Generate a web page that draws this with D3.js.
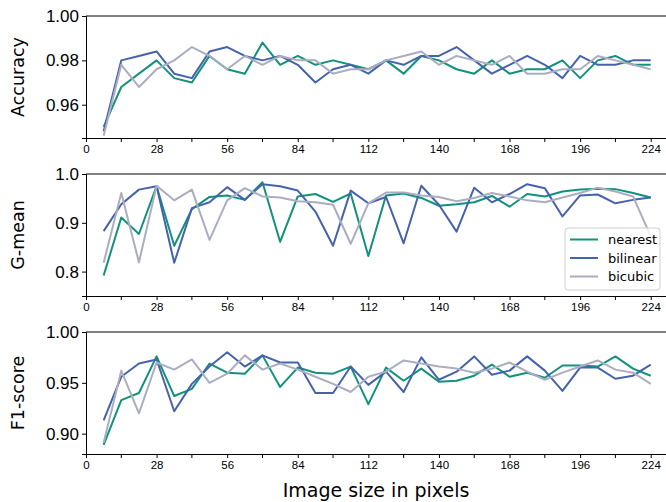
<!DOCTYPE html>
<html>
<head>
<meta charset="utf-8">
<script src="https://cdn.jsdelivr.net/npm/d3@7"></script>
<style>
  body { margin: 0; background: #fff; }
  svg { font-family: "DejaVu Sans", sans-serif; }
</style>
</head>
<body>
<div id="chart"></div>
<script>
// image sizes 7..224 step 7
var sizes = [7,14,21,28,35,42,49,56,63,70,77,84,91,98,105,112,119,126,133,140,147,154,161,168,175,182,189,196,203,210,217,224];
var xTicks = [0,28,56,84,112,140,168,196,224];
var xMinor = [14,42,70,98,126,154,182,210];

var accNearest  = [0.950,0.968,0.974,0.980,0.972,0.970,0.982,0.976,0.974,0.988,0.978,0.982,0.978,0.980,0.978,0.976,0.980,0.974,0.982,0.980,0.976,0.974,0.980,0.974,0.976,0.976,0.980,0.972,0.980,0.982,0.978,0.978];
var accBilinear = [0.948,0.980,0.982,0.984,0.974,0.972,0.984,0.986,0.982,0.980,0.982,0.978,0.970,0.976,0.978,0.974,0.980,0.978,0.982,0.982,0.986,0.980,0.974,0.978,0.982,0.978,0.972,0.982,0.978,0.978,0.980,0.980];
var accBicubic  = [0.946,0.978,0.968,0.976,0.980,0.986,0.982,0.976,0.982,0.978,0.982,0.980,0.980,0.974,0.976,0.976,0.980,0.982,0.984,0.978,0.982,0.980,0.978,0.982,0.974,0.974,0.976,0.976,0.982,0.980,0.978,0.976];

var gmNearest  = [0.792,0.911,0.877,0.975,0.853,0.928,0.953,0.956,0.947,0.983,0.861,0.954,0.959,0.943,0.960,0.832,0.956,0.960,0.951,0.935,0.938,0.942,0.955,0.933,0.959,0.954,0.964,0.968,0.970,0.969,0.961,0.952];
var gmBilinear = [0.883,0.938,0.968,0.975,0.818,0.930,0.942,0.973,0.947,0.979,0.975,0.966,0.923,0.853,0.966,0.940,0.953,0.858,0.976,0.937,0.882,0.972,0.942,0.959,0.979,0.971,0.913,0.956,0.958,0.940,0.947,0.952];
var gmBicubic  = [0.818,0.961,0.819,0.976,0.946,0.968,0.865,0.946,0.971,0.954,0.952,0.944,0.942,0.937,0.857,0.940,0.962,0.962,0.956,0.953,0.944,0.951,0.961,0.954,0.946,0.942,0.952,0.961,0.972,0.964,0.954,0.872];

var f1Nearest  = [0.889,0.933,0.940,0.976,0.937,0.944,0.969,0.960,0.959,0.977,0.946,0.965,0.960,0.959,0.966,0.929,0.965,0.952,0.964,0.951,0.952,0.957,0.968,0.956,0.960,0.955,0.967,0.967,0.966,0.976,0.964,0.957];
var f1Bilinear = [0.913,0.956,0.969,0.973,0.922,0.949,0.966,0.980,0.966,0.977,0.970,0.970,0.940,0.940,0.966,0.948,0.961,0.941,0.975,0.953,0.961,0.976,0.958,0.962,0.976,0.962,0.942,0.965,0.965,0.954,0.957,0.968];
var f1Bicubic  = [0.891,0.962,0.920,0.970,0.963,0.973,0.950,0.959,0.977,0.963,0.969,0.963,0.956,0.949,0.941,0.956,0.961,0.972,0.969,0.966,0.964,0.960,0.964,0.970,0.961,0.953,0.960,0.966,0.972,0.963,0.960,0.949];

var seriesNames = ["nearest","bilinear","bicubic"];
var colors = ["#12917b","#4563ad","#abadc2"];

var panels = [
  {label:"Accuracy", data:[accNearest,accBilinear,accBicubic], domain:[0.945,1.0], ticks:[0.96,0.98,1.00], fmt:".2f", top:16, bottom:138},
  {label:"G-mean",   data:[gmNearest,gmBilinear,gmBicubic],    domain:[0.75,1.0],  ticks:[0.8,0.9,1.0],    fmt:".1f", top:174, bottom:296},
  {label:"F1-score", data:[f1Nearest,f1Bilinear,f1Bicubic],    domain:[0.88,1.0],  ticks:[0.90,0.95,1.00], fmt:".2f", top:332, bottom:454}
];

var W = 666, H = 502;
var svg = d3.select("#chart").append("svg")
    .attr("width", W)
    .attr("height", H);

var left = 86;
var x = d3.scaleLinear().domain([0, 232]).range([left, left + 232 * 2.521]);

panels.forEach(function(p, pi) {
  var y = d3.scaleLinear().domain(p.domain).range([p.bottom, p.top]);
  var g = svg.append("g");

  // lines
  var line = d3.line()
    .x(function(d, i) { return x(sizes[i]); })
    .y(function(d) { return y(d); });
  p.data.forEach(function(vals, si) {
    g.append("path")
      .datum(vals)
      .attr("d", line)
      .attr("fill", "none")
      .attr("stroke", colors[si])
      .attr("stroke-width", 2)
      .attr("stroke-linejoin", "round");
  });

  // top spine
  g.append("line")
    .attr("x1", left).attr("x2", W + 10)
    .attr("y1", p.top).attr("y2", p.top)
    .attr("stroke", "#000").attr("stroke-width", 1);

  // x axis
  var xa = g.append("g")
    .attr("transform", "translate(0," + p.bottom + ")")
    .call(d3.axisBottom(x).tickValues(xTicks).tickSize(4).tickPadding(3).tickFormat(d3.format("d")));
  xa.select(".domain").attr("d", "M" + left + ",0.5H" + (W + 10));
  xa.selectAll("text").style("font-size", "11.5px").attr("fill", "#000");
  g.append("g")
    .attr("transform", "translate(0," + p.bottom + ")")
    .selectAll("line").data(xMinor).enter().append("line")
    .attr("x1", function(d) { return x(d); })
    .attr("x2", function(d) { return x(d); })
    .attr("y1", 0).attr("y2", 4)
    .attr("stroke", "#000");

  // y axis
  var ya = g.append("g")
    .attr("transform", "translate(" + left + ",0)")
    .call(d3.axisLeft(y).tickValues(p.ticks).tickSize(4).tickPadding(3).tickFormat(d3.format(p.fmt)));
  ya.selectAll("text").style("font-size", "17px").attr("fill", "#000");

  g.append("text")
    .attr("transform", "translate(24," + ((p.top + p.bottom) / 2) + ") rotate(-90)")
    .attr("text-anchor", "middle")
    .style("font-size", "17.5px")
    .text(p.label);

  // legend in middle panel
  if (pi === 1) {
    var lg = g.append("g").attr("transform", "translate(565,228)");
    lg.append("rect")
      .attr("width", 95).attr("height", 62)
      .attr("rx", 3)
      .attr("fill", "#fff").attr("fill-opacity", 0.8)
      .attr("stroke", "#d0d0d0");
    seriesNames.forEach(function(n, i) {
      var yy = 11.5 + i * 18.5;
      lg.append("line")
        .attr("x1", 5).attr("x2", 33)
        .attr("y1", yy).attr("y2", yy)
        .attr("stroke", colors[i]).attr("stroke-width", 2);
      lg.append("text")
        .attr("x", 43).attr("y", yy + 4.5)
        .style("font-size", "13px")
        .text(n);
    });
  }
});

svg.append("text")
  .attr("x", 376).attr("y", 497)
  .attr("text-anchor", "middle")
  .style("font-size", "19px")
  .text("Image size in pixels");
</script>
</body>
</html>
